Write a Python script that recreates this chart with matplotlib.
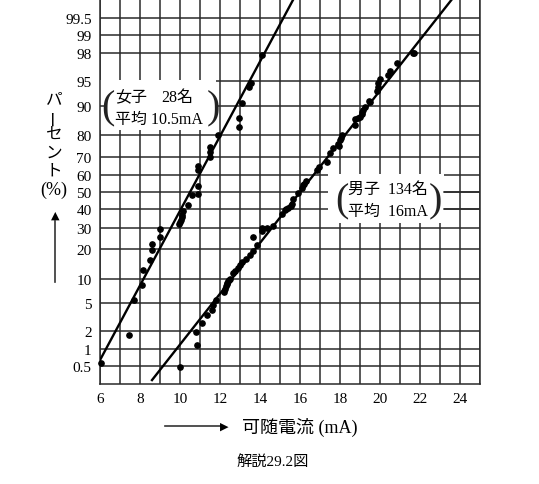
import matplotlib
matplotlib.use('Agg')
import matplotlib.pyplot as plt
from matplotlib.patches import Rectangle
from statistics import NormalDist
import numpy as np

plt.rcParams['font.family'] = ['Liberation Serif', 'Noto Sans CJK JP']

# probability scale ticks (%)
pct_ticks = [0.5, 1, 2, 5, 10, 20, 30, 40, 50, 60, 70, 80, 90, 95, 98, 99, 99.5]
pct_labels = ['0.5', '1', '2', '5', '10', '20', '30', '40', '50', '60', '70',
              '80', '90', '95', '98', '99', '99.5']
x_ticks = [6, 8, 10, 12, 14, 16, 18, 20, 22, 24]

# 女子 (28名)
female_ma = [6.05, 7.47, 7.7, 8.08, 8.17, 8.5, 8.58, 8.58, 9.02, 9.02, 9.95, 10.0,
             10.05, 10.1, 10.1, 10.15, 10.4, 10.6, 10.9, 10.92, 10.92, 10.92,
             11.5, 11.5, 11.5, 11.92, 12.95, 12.95, 13.08, 13.47, 13.53, 14.08]
female_pct = [0.57, 1.75, 5.5, 8.5, 12.4, 15.6, 19.5, 22.0, 25.4, 29.4, 32.0, 33.0,
              34.0, 35.5, 37.0, 39.0, 42.7, 48.5, 49.0, 53.8, 63.0, 65.0,
              70.0, 72.6, 74.8, 80.2, 83.2, 86.3, 90.6, 94.1, 94.7, 97.9]

# 男子 (134名)
male_ma = [10.0, 10.83, 10.8, 11.08, 11.33, 11.58, 11.67, 11.8, 12.2, 12.25, 12.3,
           12.33, 12.35, 12.42, 12.45, 12.5, 12.63, 12.75, 12.9, 13.0, 13.08, 13.3,
           13.5, 13.67, 13.83, 13.63, 14.08, 14.08, 14.33, 14.67, 15.08, 15.25,
           15.3, 15.42, 15.53, 15.6, 15.67, 15.92, 16.08, 16.17, 16.2, 16.3, 16.83,
           16.97, 17.33, 17.5, 17.67, 17.9, 17.97, 18.0, 18.05, 18.08, 18.75, 18.75,
           18.92, 19.0, 19.08, 19.1, 19.17, 19.25, 19.47, 19.5, 19.83, 19.92, 19.92,
           20.0, 20.42, 20.5, 20.87, 21.63, 21.7]
male_pct = [0.48, 1.2, 1.9, 2.6, 3.5, 4.1, 4.7, 5.5, 7.0, 7.5, 8.2,
            9.0, 8.6, 9.4, 9.7, 10.0, 11.7, 12.1, 13.2, 13.9, 15.0, 16.2,
            17.8, 19.1, 21.5, 25.4, 28.1, 29.8, 29.8, 31.0, 37.5, 39.8,
            40.2, 40.8, 42.0, 43.0, 46.0, 49.5, 52.5, 54.4, 55.0, 56.8, 63.0,
            64.8, 67.5, 71.9, 74.3, 76.0, 75.1, 77.8, 79.0, 80.2, 84.0, 86.0,
            86.3, 86.6, 88.3, 87.5, 88.9, 89.7, 91.2, 91.0, 93.2, 94.1, 94.7,
            95.3, 95.9, 96.4, 97.2, 98.0, 98.0]

# fitted normal lines: mean, sigma, x range
female_fit = (10.5, 1.81, 6.0, 16.0)
male_fit = (16.0, 2.66, 8.6, 24.0)

nd = NormalDist()
def z(p):
    return np.array([nd.inv_cdf(v / 100.0) for v in np.atleast_1d(p)])

W, H = 539, 485
fig = plt.figure(figsize=(W / 100, H / 100), dpi=100)

def fx(x):
    return x / W

def fy(y):
    return 1 - y / H

ax = fig.add_axes([fx(100), fy(385), fx(480) - fx(100), fy(0) - fy(385)])
ax.set_xlim(6, 25)
ax.set_ylim(-2.84, 2.86)

grid_kw = dict(color='#2a2a2a', lw=1.1, zorder=1)
for gx in range(6, 26):
    ax.axvline(gx, **grid_kw)
for gz in z(pct_ticks):
    ax.axhline(gz, **grid_kw)

ax.set_xticks(x_ticks)
ax.set_xticklabels([str(t) for t in x_ticks], fontsize=11)
ax.set_yticks(z(pct_ticks))
ax.set_yticklabels(pct_labels, fontsize=11)
ax.tick_params(length=0, pad=6)
ax.spines['top'].set_visible(False)
for s in ['left', 'right', 'bottom']:
    ax.spines[s].set_color('#2a2a2a')
    ax.spines[s].set_linewidth(1.1)

# white boxes behind annotations
ax.add_patch(Rectangle((5.95, z([90.6])[0] - 0.4), 11.8 - 5.95, 0.75,
                       facecolor='white', edgecolor='none', zorder=2, clip_on=False))
ax.plot([6.0, 6.25], [z([90])[0]] * 2, color='#2a2a2a', lw=1.1, zorder=2.5)
ax.add_patch(Rectangle((17.4, -0.45), 23.2 - 17.4, 0.72,
                       facecolor='white', edgecolor='none', zorder=2))
for p in [50, 40]:
    ax.plot([23.2, 25], [z([p])[0]] * 2, color='#2a2a2a', lw=1.1, zorder=2.5)

# fitted lines
for mu, sd, x0, x1 in [female_fit, male_fit]:
    xs = np.array([x0, x1])
    ax.plot(xs, (xs - mu) / sd, color='black', lw=1.7, zorder=4)

ax.plot(female_ma, z(female_pct), 'o', color='black', ms=3.8, zorder=5, clip_on=False)
ax.plot(male_ma, z(male_pct), 'o', color='black', ms=3.8, zorder=5, clip_on=False)

# annotations
fs = 11.5
par = dict(fontsize=29, va='center', ha='left', family='Liberation Serif', color='#222')
fig.text(fx(101), fy(109), '(', **par)
fig.text(fx(115), fy(98), '女子', fontsize=fs, va='center')
fig.text(fx(161), fy(98), '28名', fontsize=fs, va='center')
fig.text(fx(115), fy(120), '平均 10.5mA', fontsize=fs, va='center')
fig.text(fx(207), fy(109), ')', **par)

fig.text(fx(335), fy(202), '(', **par)
fig.text(fx(348), fy(190), '男子  134名', fontsize=fs, va='center')
fig.text(fx(348), fy(212), '平均  16mA', fontsize=fs, va='center')
fig.text(fx(429), fy(202), ')', **par)

# y label (vertical)
for i, ch in enumerate('パーセント'):
    rot = 90 if ch == 'ー' else 0
    fig.text(fx(54), fy(100 + i * 18), ch, fontsize=12, ha='center', va='center',
             rotation=rot)
fig.text(fx(54), fy(190), '(%)', fontsize=13, ha='center', va='center')
fig.add_artist(plt.Line2D([fx(55), fx(55)], [fy(283), fy(222)], color='#333', lw=1.2))
fig.text(fx(55), fy(216), '▲', fontsize=8, ha='center', va='center', family='DejaVu Sans')

# x label
fig.add_artist(plt.Line2D([fx(165), fx(222)], [fy(427), fy(427)], color='#333', lw=1.2))
fig.text(fx(224), fy(427), '▶', fontsize=8, ha='center', va='center', family='DejaVu Sans')
fig.text(fx(242), fy(427), '可随電流 (mA)', fontsize=13, ha='left', va='center')
fig.text(fx(273), fy(462), '解説29.2図', fontsize=11, ha='center', va='center')

fig.savefig('out.png', dpi=100)
